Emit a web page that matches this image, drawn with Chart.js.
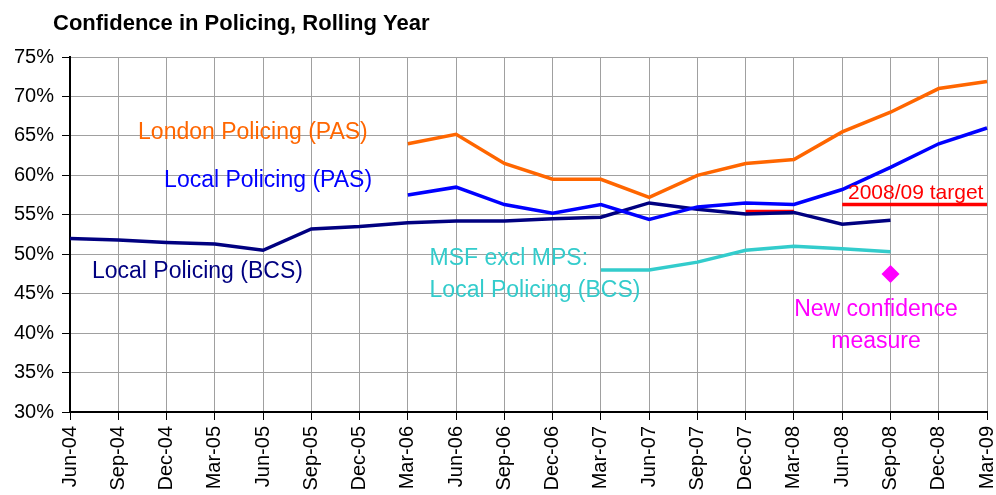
<!DOCTYPE html>
<html>
<head>
<meta charset="utf-8">
<script src="https://cdn.jsdelivr.net/npm/chart.js@4.4.0/dist/chart.umd.min.js"></script>
<style>
  html, body { margin: 0; padding: 0; background: #fff; }
  #wrap { width: 996px; height: 495px; }
</style>
</head>
<body>
<div id="wrap"><canvas id="myChart" width="996" height="495"></canvas></div>
<script>
var lbls_quarter = ['Jun-04','Sep-04','Dec-04','Mar-05','Jun-05','Sep-05','Dec-05','Mar-06','Jun-06','Sep-06',
  'Dec-06','Mar-07','Jun-07','Sep-07','Dec-07','Mar-08','Jun-08','Sep-08','Dec-08','Mar-09'];
var y_ticks = [30,35,40,45,50,55,60,65,70,75];

var london_pas = [null,null,null,null,null,null,null,64.0,65.2,61.5,59.5,59.5,57.2,60.0,61.5,62.0,65.5,68.0,71.0,71.9];
var local_pas  = [null,null,null,null,null,null,null,57.5,58.5,56.3,55.2,56.3,54.4,56.0,56.5,56.3,58.2,61.0,64.0,66.0];
var local_bcs  = [52.0,51.8,51.5,51.3,50.5,53.2,53.5,54.0,54.2,54.2,54.5,54.7,56.5,55.7,55.1,55.3,53.8,54.3,null,null];
var msf_bcs    = [null,null,null,null,null,null,null,null,null,null,null,48.0,48.0,49.0,50.5,51.0,50.7,50.3,null,null];
var target_0708 = [null,null,null,null,null,null,null,null,null,null,null,null,null,null,55.4,55.4,null,null,null,null];
var target_0809 = [null,null,null,null,null,null,null,null,null,null,null,null,null,null,null,null,56.3,56.3,56.3,56.3];
var new_measure = [null,null,null,null,null,null,null,null,null,null,null,null,null,null,null,null,null,47.5,null,null];

// text labels on the plot, placed in axis units (category index, percent)
var notes = [
  { lines: ['London Policing (PAS)'], x: 1.41, y: 64.56, color: '#FF6600', align: 'left' },
  { lines: ['Local Policing (PAS)'], x: 1.95, y: 58.48, color: '#0000FF', align: 'left' },
  { lines: ['Local Policing (BCS)'], x: 0.455, y: 46.96, color: '#000080', align: 'left' },
  { lines: ['MSF excl MPS:', 'Local Policing (BCS)'], x: 7.45, y: 48.61, color: '#33CCCC', align: 'left' },
  { lines: ['2008/09 target'], x: 16.12, y: 56.96, color: '#FF0000', align: 'left', size: 21 },
  { lines: ['New confidence', 'measure'], x: 16.70, y: 42.15, color: '#FF00FF', align: 'center' }
];

var FONT = "'Liberation Sans', Arial, sans-serif";

var notesPlugin = {
  id: 'notes',
  afterDraw: function(chart) {
    var c = chart.ctx, xs = chart.scales.x, ys = chart.scales.y;
    c.save();
    c.fillStyle = '#000';
    c.font = 'bold 22px ' + FONT;
    c.textAlign = 'left';
    c.textBaseline = 'alphabetic';
    c.fillText('Confidence in Policing, Rolling Year', 53, 30);
    notes.forEach(function(n) {
      var px = xs.getPixelForValue(n.x), py = ys.getPixelForValue(n.y);
      c.font = (n.size || 23) + 'px ' + FONT;
      c.fillStyle = n.color;
      c.textAlign = n.align;
      n.lines.forEach(function(t, i) {
        c.fillText(t, px, py + i * 31.5);
      });
    });
    c.restore();
  }
};

function line(label, data, color) {
  return {
    label: label,
    data: data,
    borderColor: color,
    backgroundColor: color,
    borderWidth: 3.5,
    pointRadius: 0,
    tension: 0,
    spanGaps: false
  };
}

var ctx = document.getElementById('myChart').getContext('2d');
var myChart = new Chart(ctx, {
  type: 'line',
  data: {
    labels: lbls_quarter,
    datasets: [
      line('London Policing (PAS)', london_pas, '#FF6600'),
      line('Local Policing (PAS)', local_pas, '#0000FF'),
      line('Local Policing (BCS)', local_bcs, '#000080'),
      line('MSF excl MPS: Local Policing (BCS)', msf_bcs, '#33CCCC'),
      line('2007/08 target', target_0708, '#FF0000'),
      line('2008/09 target', target_0809, '#FF0000'),
      {
        label: 'New confidence measure',
        data: new_measure,
        showLine: false,
        pointStyle: 'rectRot',
        pointRadius: 9,
        borderWidth: 0,
        backgroundColor: '#FF00FF',
        borderColor: '#FF00FF'
      }
    ]
  },
  options: {
    responsive: false,
    animation: false,
    layout: { padding: { top: 57, right: 8, left: 0, bottom: 0 } },
    plugins: {
      legend: { display: false },
      tooltip: { enabled: false },
      title: { display: false }
    },
    scales: {
      x: {
        offset: false,
        grid: { color: '#A0A0A0', lineWidth: 1, tickColor: '#000', tickLength: 8 },
        border: { color: '#000', width: 2 },
        ticks: {
          color: '#000',
          font: { family: FONT, size: 20 },
          minRotation: 90,
          maxRotation: 90,
          autoSkip: false,
          padding: 6
        },
        afterFit: function(s) {
          s.height = 83;
          s.paddingLeft = 0;
          s.paddingRight = 0;
        }
      },
      y: {
        min: y_ticks[0],
        max: y_ticks[y_ticks.length - 1],
        afterBuildTicks: function(s) { s.ticks = y_ticks.map(function(v) { return { value: v }; }); },
        grid: { color: '#A0A0A0', lineWidth: 1, tickColor: '#000', tickLength: 8 },
        border: { color: '#000', width: 2 },
        ticks: {
          color: '#000',
          font: { family: FONT, size: 20 },
          padding: 8,
          callback: function(v) { return v + '%'; }
        },
        afterFit: function(s) { s.width = 70; }
      }
    }
  },
  plugins: [notesPlugin]
});
</script>
</body>
</html>
